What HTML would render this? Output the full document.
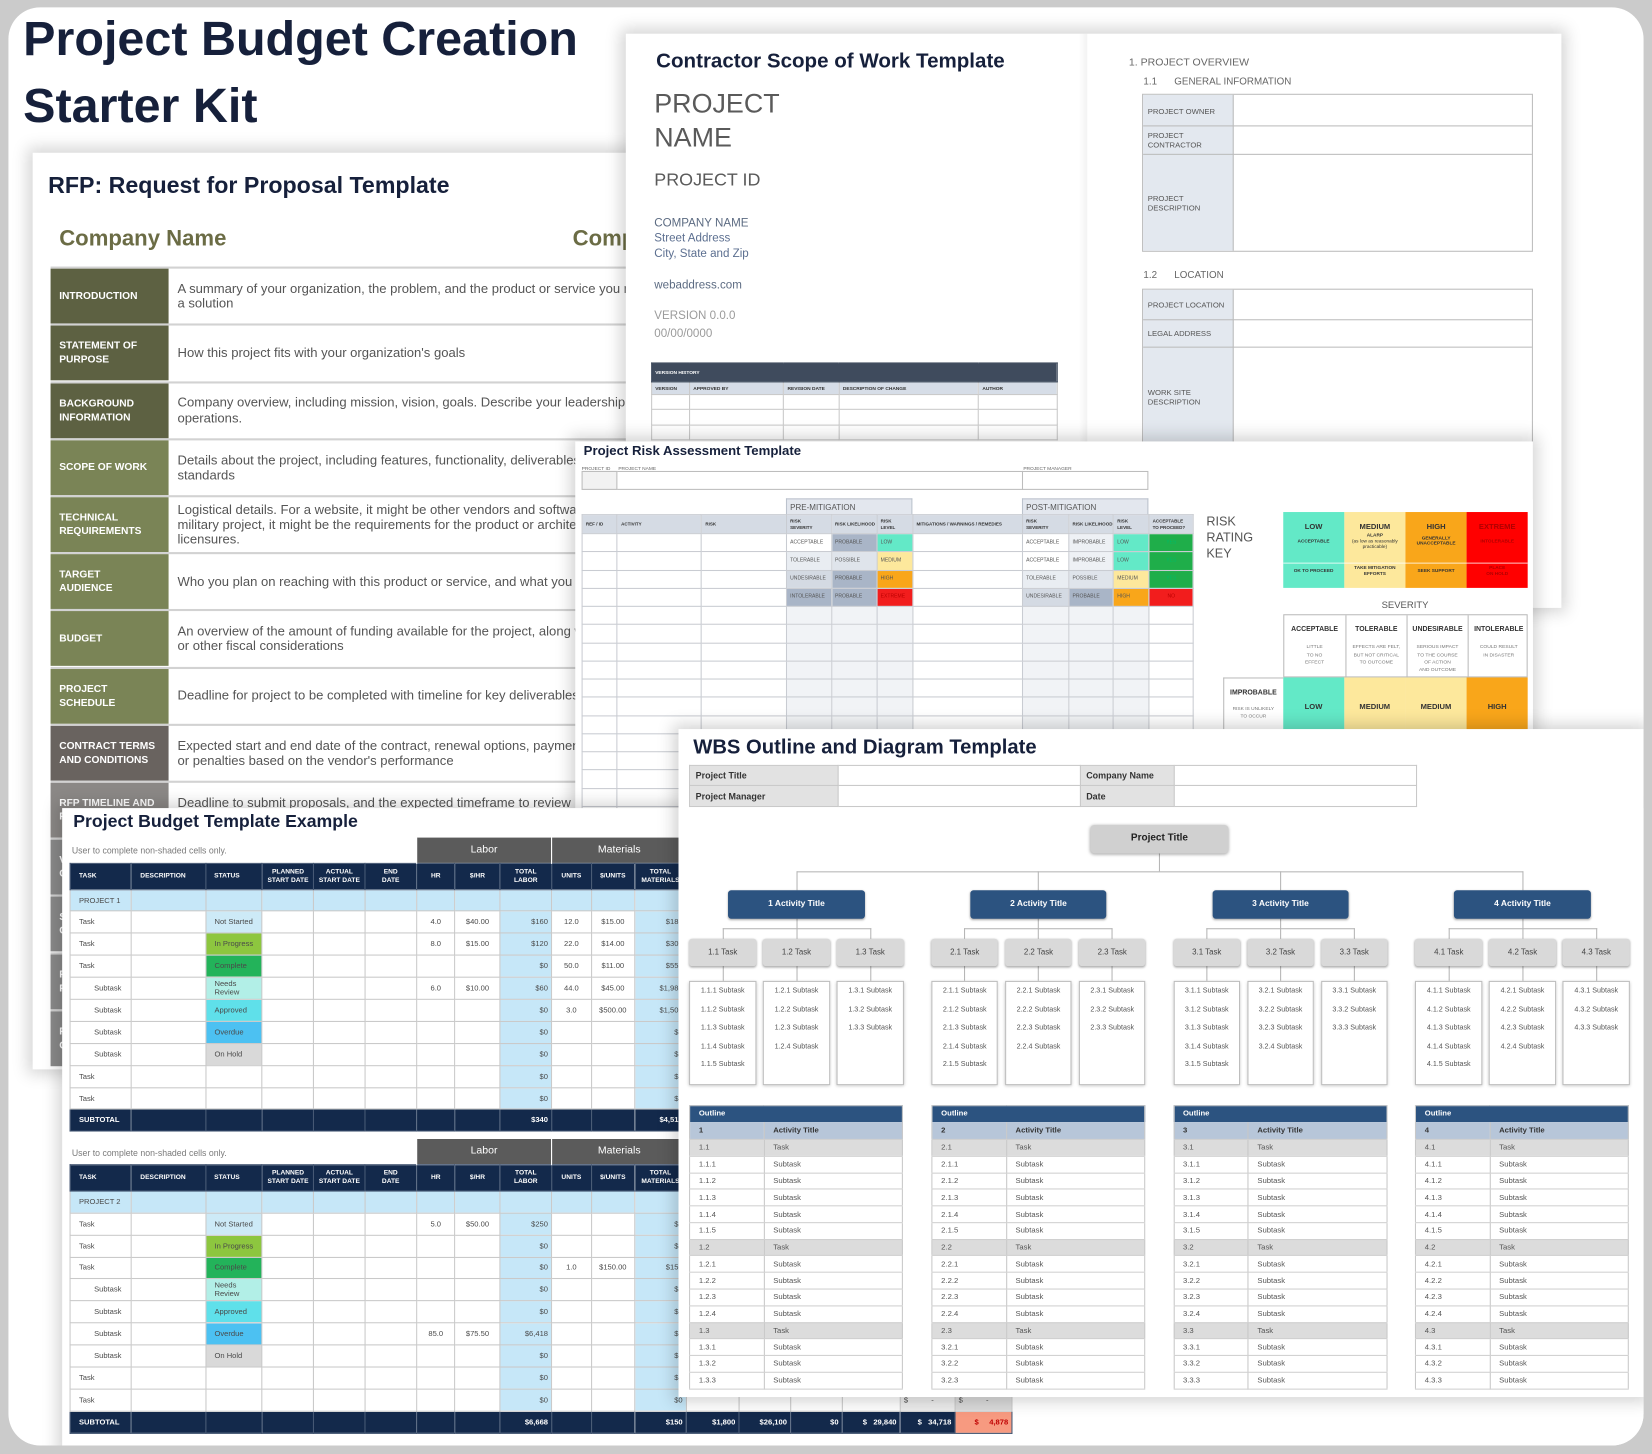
<!DOCTYPE html>
<html><head><meta charset="utf-8"><title>Project Budget Creation Starter Kit</title>
<style>
*{box-sizing:border-box;margin:0;padding:0}
html,body{width:1652px;height:1454px;overflow:hidden;background:#cbcbcb}
#stage{position:absolute;left:0;top:0;width:1568px;height:1380px;transform:scale(1.053571);transform-origin:0 0;font-family:"Liberation Sans",Arial,sans-serif;color:#333}
#panel{position:absolute;left:0;top:0;width:1568px;height:1380px;background:#fff;clip-path:inset(7px 8px 8px 8px round 30px)}
.a{position:absolute}
.t{position:absolute;white-space:nowrap}
.doc{position:absolute;background:#fff;overflow:hidden;box-shadow:0 0 14px 5px rgba(0,0,0,.17)}
/* RFP */
.rr{position:absolute;left:16.6px;width:600px;height:54.2px;border-top:2px solid #d2d2d2}
.rl{position:absolute;left:0;top:0;width:112.4px;height:100%;color:#fff;font-weight:bold;font-size:9.7px;line-height:13px;display:flex;align-items:center;padding-left:8.6px}
.rx{position:absolute;left:120.9px;top:0;height:100%;display:flex;align-items:center;font-size:12.4px;line-height:14.2px;color:#555;white-space:nowrap}
/* contractor */
.vt{position:absolute;border-collapse:collapse;table-layout:fixed;width:385.4px;font-size:4.6px;font-weight:bold;color:#333}
.vt td{border:1px solid #c9c9c9;padding:0 3px;white-space:nowrap;overflow:hidden}
.vt tr.vh td{background:#3f4b5d;color:#fff;height:17.7px;border-color:#3f4b5d}
.vt tr.vc td{background:#d6dde7;height:12.7px}
.vt tr.vr td{height:14.2px}
.lb7{position:absolute;left:4.4px;font-size:7.3px;line-height:9.2px;color:#555;white-space:nowrap}
.hl{position:absolute;left:0;width:100%;height:1px;background:#bcbcbc}
/* risk */
.sm5{font-size:4.6px;color:#666}
.mbox{width:120px;height:15.4px;background:#e3e7ee;border:1px solid #bcc3cd;border-bottom:none;font-size:7.6px;color:#555;padding:3.5px 0 0 3px;white-space:nowrap}
.rt{position:absolute;left:5.8px;top:69px;border-collapse:collapse;table-layout:fixed;width:580.4px;font-size:4.8px;color:#555}
.rt td{border:1px solid #c9ccd2;padding:0 3px;white-space:nowrap;overflow:hidden;line-height:5.5px}
.rt tr{height:17.25px}
.rt tr.rh{height:18px}
.rt tr.rh td{background:#d5dbe4;font-weight:bold;font-size:4.3px;color:#333}
.rt td.e{background:#f1f3f6}
.sl{background:#a9b5c7}.sx{background:#e9edf2}.sm{background:#dfe4eb}.sd{background:#d4dae3}
.mn{background:#63e9c7}.yl{background:#fde89c}.or{background:#f9a61a}.rd{background:#f21d1d}.gn{background:#1fae4a}
.kc{position:absolute;top:0;width:58.2px;height:72.1px;text-align:center;font-weight:bold;color:#333}
.k1{position:absolute;left:0;right:0;top:8.4px;font-size:7.2px}
.k2{position:absolute;left:2px;right:2px;font-size:4.5px;line-height:5.6px}
.k3{position:absolute;left:2px;right:2px;font-size:4.5px;line-height:5.6px}
.sv{position:absolute;top:0;width:58.1px;height:59.8px;text-align:center}
.sv b{display:block;margin-top:10.3px;font-size:6.6px;color:#333}
.sv i{display:block;font-style:normal;margin-top:9px;font-size:4.7px;line-height:7.3px;color:#777}
.ic{position:absolute;top:223.7px;width:58.1px;height:50px;text-align:center;font-size:7.2px;font-weight:bold;color:#333;padding-top:22.7px}
/* budget */
.bt{position:absolute;left:7.8px;border-collapse:collapse;table-layout:fixed;width:893.7px;font-size:7.2px;color:#4a4a4a}
.bt td{border:1px solid #c9c9c9;padding:0 3px;white-space:nowrap;overflow:hidden;line-height:8px}
.bt tr{height:20.9px}
.bt tr.g{height:24.7px}
.bt tr.g td{border:none}
.bt tr.g td.lab{background:#5b5b5b;color:#fff;font-size:10px;text-align:center;border-left:1px solid #fff}
.bt tr.h{height:24.7px}
.bt tr.h td{background:#13294b;color:#fff;font-weight:bold;font-size:6.3px;text-align:center;border-color:#40536f}
.bt tr.h td.lf{text-align:left;padding-left:7.7px}
.bt tr.p td{background:#c6e7f8}
.bt tr.s td{background:#13294b;color:#fff;font-weight:bold;border-color:#40536f}
.bt td.L{background:#c6e7f8}
.bt td.r{text-align:right}
.bt td.c{text-align:center}
.bt td.k{padding-left:7.7px}
.bt td.ind{padding-left:22px}
.bt td.st{padding-left:8px}
/* WBS */
.wi{position:absolute;border-collapse:collapse;table-layout:fixed;font-size:8.5px;font-weight:bold;color:#333}
.wi td{border:1px solid #c9c9c9;height:19.4px;padding:0 5px}
.wi td.lbl{background:#e2e2e2}
.act{position:absolute;top:153.4px;width:129.4px;height:26.2px;background:#2c5380;border-radius:3px;color:#fff;font-weight:bold;font-size:8px;line-height:26.2px;text-align:center;box-shadow:0 1px 2px rgba(0,0,0,.35)}
.tsk{position:absolute;top:199.3px;width:63.6px;height:26.2px;background:#d9d9d9;border-radius:3px;font-size:7.5px;line-height:26.2px;text-align:center;color:#444;box-shadow:0 1px 2px rgba(0,0,0,.35)}
.sub{position:absolute;top:239.4px;width:63.6px;height:98.4px;background:#fff;border:1px solid #bdbdbd;font-size:6.8px;line-height:17.4px;text-align:center;color:#555;box-shadow:0 1px 3px rgba(0,0,0,.25)}
.ln{position:absolute;background:#b5b5b5}
.ot{position:absolute;top:356.8px;width:203px;border-collapse:collapse;table-layout:fixed;font-size:7.3px;color:#555;border:1px solid #c8c8c8}
.ot td{border-bottom:1px solid #d0d0d0;height:15.78px;padding:0 0 0 8px;line-height:8px;white-space:nowrap}
.ot td:first-child{border-right:1px solid #c8c8c8}
.ot tr.hd td{background:#2c5380;color:#fff;font-weight:bold;height:15.8px;border:none}
.ot tr.ac td{background:#b7c6d9;color:#333;font-weight:bold;height:16.5px}
.ot tr.tk td{background:#dcdcdc}
</style></head><body><div id="stage"><div id="panel">

<!-- Main title -->
<div class="t" style="left:22px;top:4px;font-size:46px;line-height:64px;font-weight:bold;color:#16203b">Project Budget Creation<br>Starter Kit</div>

<!-- RFP document -->
<div class="doc" style="left:31px;top:145px;width:590px;height:870px">
 <div class="t" style="left:14.7px;top:19.6px;font-size:22px;line-height:22px;font-weight:bold;color:#16203b">RFP: Request for Proposal Template</div>
 <div class="t" style="left:25.2px;top:70.7px;font-size:21px;line-height:21px;font-weight:bold;color:#6b6c45">Company Name</div>
 <div class="t" style="left:512.5px;top:70.7px;font-size:21px;line-height:21px;font-weight:bold;color:#6b6c45">Company Name</div>

 <div class="rr" style="top:108.1px"><div class="rl" style="background:#5d6142">INTRODUCTION</div><div class="rx">A summary of your organization, the problem, and the product or service you need as<br>a solution</div></div>
 <div class="rr" style="top:162.3px"><div class="rl" style="background:#5d6142">STATEMENT OF<br>PURPOSE</div><div class="rx">How this project fits with your organization's goals</div></div>
 <div class="rr" style="top:216.5px"><div class="rl" style="background:#5d6142">BACKGROUND<br>INFORMATION</div><div class="rx">Company overview, including mission, vision, goals. Describe your leadership and<br>operations.</div></div>
 <div class="rr" style="top:270.7px"><div class="rl" style="background:#7a8456">SCOPE OF WORK</div><div class="rx">Details about the project, including features, functionality, deliverables, and<br>standards</div></div>
 <div class="rr" style="top:324.9px"><div class="rl" style="background:#7a8456">TECHNICAL<br>REQUIREMENTS</div><div class="rx">Logistical details. For a website, it might be other vendors and software. For a<br>military project, it might be the requirements for the product or architecture<br>licensures.</div></div>
 <div class="rr" style="top:379.1px"><div class="rl" style="background:#7a8456">TARGET<br>AUDIENCE</div><div class="rx">Who you plan on reaching with this product or service, and what you want</div></div>
 <div class="rr" style="top:433.3px"><div class="rl" style="background:#7a8456">BUDGET</div><div class="rx">An overview of the amount of funding available for the project, along with<br>or other fiscal considerations</div></div>
 <div class="rr" style="top:487.5px"><div class="rl" style="background:#7a8456">PROJECT<br>SCHEDULE</div><div class="rx">Deadline for project to be completed with timeline for key deliverables</div></div>
 <div class="rr" style="top:541.7px"><div class="rl" style="background:#69635f">CONTRACT TERMS<br>AND CONDITIONS</div><div class="rx">Expected start and end date of the contract, renewal options, payment<br>or penalties based on the vendor's performance</div></div>
 <div class="rr" style="top:595.9px"><div class="rl" style="background:#8b8886">RFP TIMELINE AND<br>PROCESS</div><div class="rx">Deadline to submit proposals, and the expected timeframe to review<br>proposals</div></div>
 <div class="rr" style="top:650.1px"><div class="rl" style="background:#8a8a8a">VENDOR<br>QUESTIONS</div></div>
 <div class="rr" style="top:704.3px"><div class="rl" style="background:#8a8a8a">SELECTION<br>CRITERIA</div></div>
 <div class="rr" style="top:758.5px"><div class="rl" style="background:#8a8a8a">PROPOSAL<br>FORMAT</div></div>
 <div class="rr" style="top:812.7px"><div class="rl" style="background:#8a8a8a">POINT OF<br>CONTACT</div></div>
</div>

<!-- Contractor Scope of Work -->
<div class="doc" style="left:593.5px;top:31.6px;width:888.5px;height:545px">
 <div class="t" style="left:29.3px;top:17.2px;font-size:19.5px;line-height:19.5px;font-weight:bold;color:#16203b">Contractor Scope of Work Template</div>
 <div class="t" style="left:27.5px;top:55px;font-size:25.5px;line-height:25.5px;color:#5a5a5a">PROJECT</div>
 <div class="t" style="left:27.5px;top:87.6px;font-size:25.5px;line-height:25.5px;color:#5a5a5a">NAME</div>
 <div class="t" style="left:27.5px;top:130.5px;font-size:17px;line-height:17px;color:#5a5a5a">PROJECT ID</div>
 <div class="t" style="left:27.5px;top:175.2px;font-size:11px;line-height:11px;color:#5c6b82">COMPANY NAME</div>
 <div class="t" style="left:27.5px;top:189.7px;font-size:11px;line-height:11px;color:#5c6f90">Street Address</div>
 <div class="t" style="left:27.5px;top:204.3px;font-size:11px;line-height:11px;color:#5c6f90">City, State and Zip</div>
 <div class="t" style="left:27.5px;top:234px;font-size:11px;line-height:11px;color:#5c6b82">webaddress.com</div>
 <div class="t" style="left:27.5px;top:263.5px;font-size:11px;line-height:11px;color:#9b9b9b">VERSION 0.0.0</div>
 <div class="t" style="left:27.5px;top:280.2px;font-size:11px;line-height:11px;color:#9b9b9b">00/00/0000</div>
 <table class="vt" style="left:24.4px;top:312.3px">
  <colgroup><col style="width:36.1px"><col style="width:89.5px"><col style="width:52.5px"><col style="width:132.4px"><col style="width:74.9px"></colgroup>
  <tr class="vh"><td colspan="5">VERSION HISTORY</td></tr>
  <tr class="vc"><td>VERSION</td><td>APPROVED BY</td><td>REVISION DATE</td><td>DESCRIPTION OF CHANGE</td><td>AUTHOR</td></tr>
  <tr class="vr"><td></td><td></td><td></td><td></td><td></td></tr>
  <tr class="vr"><td></td><td></td><td></td><td></td><td></td></tr>
  <tr class="vr"><td></td><td></td><td></td><td></td><td></td></tr>
 </table>
 <div class="a" style="left:430px;top:0;width:8px;height:545px;background:linear-gradient(90deg,rgba(0,0,0,0),rgba(0,0,0,.05))"></div>
 <div class="t" style="left:478px;top:23.5px;font-size:10px;line-height:10px;color:#666">1. PROJECT OVERVIEW</div>
 <div class="t" style="left:491.8px;top:41.8px;font-size:9.3px;line-height:9.3px;color:#666">1.1</div>
 <div class="t" style="left:521.1px;top:41.8px;font-size:9.3px;line-height:9.3px;color:#666">GENERAL INFORMATION</div>
 <div class="a" style="left:490.5px;top:57.9px;width:370.5px;height:149.4px;border:1px solid #bcbcbc">
  <div class="a" style="left:0;top:0;width:86.2px;height:100%;background:#e3e8ef;border-right:1px solid #bcbcbc"></div>
  <div class="hl" style="top:28.5px"></div><div class="hl" style="top:56px"></div>
  <div class="lb7" style="top:10.3px">PROJECT OWNER</div>
  <div class="lb7" style="top:33.1px">PROJECT<br>CONTRACTOR</div>
  <div class="lb7" style="top:93.6px">PROJECT<br>DESCRIPTION</div>
 </div>
 <div class="t" style="left:491.8px;top:225.4px;font-size:9.3px;line-height:9.3px;color:#666">1.2</div>
 <div class="t" style="left:521.1px;top:225.4px;font-size:9.3px;line-height:9.3px;color:#666">LOCATION</div>
 <div class="a" style="left:490.5px;top:242.1px;width:370.5px;height:200px;border:1px solid #bcbcbc">
  <div class="a" style="left:0;top:0;width:86.2px;height:100%;background:#e3e8ef;border-right:1px solid #bcbcbc"></div>
  <div class="hl" style="top:28.5px"></div><div class="hl" style="top:54.7px"></div>
  <div class="lb7" style="top:10px">PROJECT LOCATION</div>
  <div class="lb7" style="top:37.6px">LEGAL ADDRESS</div>
  <div class="lb7" style="top:93px">WORK SITE<br>DESCRIPTION</div>
 </div>
</div>

<!-- Risk Assessment -->
<div class="doc" style="left:546.3px;top:419.2px;width:908.7px;height:360px">
 <div class="t" style="left:7.7px;top:3.3px;font-size:12.5px;line-height:12.5px;font-weight:bold;color:#16203b">Project Risk Assessment Template</div>
 <div class="t sm5" style="left:5.8px;top:22.4px">PROJECT ID</div>
 <div class="t sm5" style="left:40.6px;top:22.4px">PROJECT NAME</div>
 <div class="t sm5" style="left:425px;top:22.4px">PROJECT MANAGER</div>
 <div class="a" style="left:5.8px;top:27.8px;width:537.8px;height:18.4px;border:1px solid #bdbdbd"></div>
 <div class="a" style="left:5.8px;top:27.8px;width:33.6px;height:18.4px;border:1px solid #bdbdbd;background:#f2f2f2"></div>
 <div class="a" style="left:423.7px;top:27.8px;width:1px;height:18.4px;background:#bdbdbd"></div>
 <div class="a mbox" style="left:199.7px;top:53.8px">PRE-MITIGATION</div>
 <div class="a mbox" style="left:423.7px;top:53.8px">POST-MITIGATION</div>
 <table class="rt">
  <colgroup><col style="width:33.4px"><col style="width:80px"><col style="width:80.5px"><col style="width:42.6px"><col style="width:43.3px"><col style="width:34px"><col style="width:104.1px"><col style="width:44px"><col style="width:42.5px"><col style="width:33.5px"><col style="width:42.5px"></colgroup>
  <tr class="rh"><td>REF / ID</td><td>ACTIVITY</td><td>RISK</td><td>RISK<br>SEVERITY</td><td>RISK LIKELIHOOD</td><td>RISK<br>LEVEL</td><td>MITIGATIONS / WARNINGS / REMEDIES</td><td>RISK<br>SEVERITY</td><td>RISK LIKELIHOOD</td><td>RISK<br>LEVEL</td><td>ACCEPTABLE<br>TO PROCEED?</td></tr>
  <tr><td></td><td></td><td></td><td>ACCEPTABLE</td><td class="sl">PROBABLE</td><td class="mn">LOW</td><td></td><td>ACCEPTABLE</td><td style="background:#eef1f5">IMPROBABLE</td><td class="mn">LOW</td><td class="gn" style="text-align:center;color:#0b6">YES</td></tr>
  <tr><td></td><td></td><td></td><td class="sx">TOLERABLE</td><td class="sm">POSSIBLE</td><td class="yl">MEDIUM</td><td></td><td>ACCEPTABLE</td><td style="background:#eef1f5">IMPROBABLE</td><td class="mn">LOW</td><td class="gn" style="text-align:center;color:#0b6">YES</td></tr>
  <tr><td></td><td></td><td></td><td class="sd">UNDESIRABLE</td><td class="sl">PROBABLE</td><td class="or">HIGH</td><td></td><td class="sx">TOLERABLE</td><td class="sm">POSSIBLE</td><td class="yl">MEDIUM</td><td class="gn" style="text-align:center;color:#0b6">YES</td></tr>
  <tr><td></td><td></td><td></td><td class="sl">INTOLERABLE</td><td class="sl">PROBABLE</td><td class="rd" style="color:#b00">EXTREME</td><td></td><td class="sd">UNDESIRABLE</td><td class="sl">PROBABLE</td><td class="or">HIGH</td><td class="rd" style="text-align:center;color:#b00">NO</td></tr>
  <tr><td></td><td></td><td></td><td class="e"></td><td class="e"></td><td class="e"></td><td></td><td class="e"></td><td class="e"></td><td class="e"></td><td></td></tr>
  <tr><td></td><td></td><td></td><td class="e"></td><td class="e"></td><td class="e"></td><td></td><td class="e"></td><td class="e"></td><td class="e"></td><td></td></tr>
  <tr><td></td><td></td><td></td><td class="e"></td><td class="e"></td><td class="e"></td><td></td><td class="e"></td><td class="e"></td><td class="e"></td><td></td></tr>
  <tr><td></td><td></td><td></td><td class="e"></td><td class="e"></td><td class="e"></td><td></td><td class="e"></td><td class="e"></td><td class="e"></td><td></td></tr>
  <tr><td></td><td></td><td></td><td class="e"></td><td class="e"></td><td class="e"></td><td></td><td class="e"></td><td class="e"></td><td class="e"></td><td></td></tr>
  <tr><td></td><td></td><td></td><td class="e"></td><td class="e"></td><td class="e"></td><td></td><td class="e"></td><td class="e"></td><td class="e"></td><td></td></tr>
  <tr><td></td><td></td><td></td><td class="e"></td><td class="e"></td><td class="e"></td><td></td><td class="e"></td><td class="e"></td><td class="e"></td><td></td></tr>
  <tr><td></td><td></td><td></td><td class="e"></td><td class="e"></td><td class="e"></td><td></td><td class="e"></td><td class="e"></td><td class="e"></td><td></td></tr>
  <tr><td></td><td></td><td></td><td class="e"></td><td class="e"></td><td class="e"></td><td></td><td class="e"></td><td class="e"></td><td class="e"></td><td></td></tr>
  <tr><td></td><td></td><td></td><td class="e"></td><td class="e"></td><td class="e"></td><td></td><td class="e"></td><td class="e"></td><td class="e"></td><td></td></tr>
  <tr><td></td><td></td><td></td><td class="e"></td><td class="e"></td><td class="e"></td><td></td><td class="e"></td><td class="e"></td><td class="e"></td><td></td></tr>
  <tr><td></td><td></td><td></td><td class="e"></td><td class="e"></td><td class="e"></td><td></td><td class="e"></td><td class="e"></td><td class="e"></td><td></td></tr>
 </table>
 <div class="t" style="left:598.7px;top:68.4px;font-size:12px;line-height:15.1px;color:#555">RISK<br>RATING<br>KEY</div>
 <div class="a" style="left:671.4px;top:67.1px;width:232.5px;height:72.1px">
  <div class="kc mn" style="left:0"><div class="k1">LOW</div><div class="k2" style="top:24.4px">ACCEPTABLE</div><div class="k3" style="top:52.9px">OK TO PROCEED</div></div>
  <div class="kc yl" style="left:58.2px"><div class="k1">MEDIUM</div><div class="k2" style="top:19px">ALARP<br><span style="font-weight:normal">(as low as reasonably practicable)</span></div><div class="k3" style="top:50.1px">TAKE MITIGATION EFFORTS</div></div>
  <div class="kc or" style="left:116.3px"><div class="k1">HIGH</div><div class="k2" style="top:21.6px">GENERALLY UNACCEPTABLE</div><div class="k3" style="top:52.9px">SEEK SUPPORT</div></div>
  <div class="kc" style="left:174.3px;background:#ff0000;color:#b00000"><div class="k1">EXTREME</div><div class="k2" style="top:24.4px">INTOLERABLE</div><div class="k3" style="top:50.1px">PLACE<br>ON HOLD</div></div>
  <div class="a" style="left:0;top:47.4px;width:232.5px;height:1px;background:rgba(255,255,255,.75)"></div>
 </div>
 <div class="t" style="left:759.8px;top:151px;width:55px;text-align:center;font-size:9px;line-height:9px;color:#555">SEVERITY</div>
 <div class="a" style="left:671.4px;top:163.9px;width:232.5px;height:59.8px;border:1px solid #bbb">
  <div class="sv" style="left:0"><b>ACCEPTABLE</b><i>LITTLE<br>TO NO<br>EFFECT</i></div>
  <div class="sv" style="left:58.1px;border-left:1px solid #bbb"><b>TOLERABLE</b><i>EFFECTS ARE FELT,<br>BUT NOT CRITICAL<br>TO OUTCOME</i></div>
  <div class="sv" style="left:116.2px;border-left:1px solid #bbb"><b>UNDESIRABLE</b><i>SERIOUS IMPACT<br>TO THE COURSE<br>OF ACTION<br>AND OUTCOME</i></div>
  <div class="sv" style="left:174.3px;border-left:1px solid #bbb"><b>INTOLERABLE</b><i>COULD RESULT<br>IN DISASTER</i></div>
 </div>
 <div class="a" style="left:614.3px;top:223.7px;width:57.1px;height:50px;border-left:1px solid #bbb;border-top:1px solid #bbb;text-align:center">
  <div style="margin-top:9.7px;font-size:6.6px;font-weight:bold;color:#333">IMPROBABLE</div>
  <div style="margin-top:8px;font-size:4.6px;line-height:7px;color:#777">RISK IS UNLIKELY<br>TO OCCUR</div>
 </div>
 <div class="ic mn" style="left:671.4px">LOW</div>
 <div class="ic yl" style="left:729.5px">MEDIUM</div>
 <div class="ic yl" style="left:787.6px">MEDIUM</div>
 <div class="ic or" style="left:845.7px">HIGH</div>
</div>

<!-- Budget template -->
<div class="doc" style="left:58.5px;top:767.2px;width:1502px;height:613px">
 <div class="t" style="left:11px;top:4.4px;font-size:16.8px;line-height:16.8px;font-weight:bold;color:#16203b">Project Budget Template Example</div>
 <div class="t" style="left:9.7px;top:36px;font-size:8.3px;line-height:8.3px;color:#7a7a7a">User to complete non-shaded cells only.</div>
 <table class="bt" style="top:27.5px">
  <colgroup><col style="width:58.2px"><col style="width:70.1px"><col style="width:53.9px"><col style="width:48.8px"><col style="width:48.7px"><col style="width:48.8px"><col style="width:36.7px"><col style="width:42.5px"><col style="width:49.2px"><col style="width:37.4px"><col style="width:41.3px"><col style="width:49.1px"><col style="width:50px"><col style="width:49px"><col style="width:49px"><col style="width:55px"><col style="width:52px"><col style="width:54px"></colgroup>
  <tr class="g"><td></td><td></td><td></td><td></td><td></td><td></td><td class="lab" colspan="3">Labor</td><td class="lab" colspan="3">Materials</td><td></td><td></td><td></td><td></td><td></td><td></td></tr>
  <tr class="h"><td class="lf">TASK</td><td class="lf">DESCRIPTION</td><td class="lf">STATUS</td><td>PLANNED<br>START DATE</td><td>ACTUAL<br>START DATE</td><td>END<br>DATE</td><td>HR</td><td>$/HR</td><td>TOTAL<br>LABOR</td><td>UNITS</td><td>$/UNITS</td><td>TOTAL<br>MATERIALS</td><td></td><td></td><td></td><td></td><td></td><td></td></tr>
  <tr class="p"><td class="k">PROJECT 1</td><td></td><td></td><td></td><td></td><td></td><td></td><td></td><td></td><td></td><td></td><td></td><td></td><td></td><td></td><td></td><td></td><td></td></tr>
  <tr><td class="k">Task</td><td></td><td class="st" style="background:#cdeaf7">Not Started</td><td></td><td></td><td></td><td class="c">4.0</td><td class="c">$40.00</td><td class="L r">$160</td><td class="c">12.0</td><td class="c">$15.00</td><td class="L r">$180</td><td></td><td></td><td></td><td></td><td></td><td></td></tr>
  <tr><td class="k">Task</td><td></td><td class="st" style="background:#8dc63f">In Progress</td><td></td><td></td><td></td><td class="c">8.0</td><td class="c">$15.00</td><td class="L r">$120</td><td class="c">22.0</td><td class="c">$14.00</td><td class="L r">$308</td><td></td><td></td><td></td><td></td><td></td><td></td></tr>
  <tr><td class="k">Task</td><td></td><td class="st" style="background:#23b35a">Complete</td><td></td><td></td><td></td><td></td><td></td><td class="L r">$0</td><td class="c">50.0</td><td class="c">$11.00</td><td class="L r">$550</td><td></td><td></td><td></td><td></td><td></td><td></td></tr>
  <tr><td class="ind">Subtask</td><td></td><td class="st" style="background:#b2efe7">Needs<br>Review</td><td></td><td></td><td></td><td class="c">6.0</td><td class="c">$10.00</td><td class="L r">$60</td><td class="c">44.0</td><td class="c">$45.00</td><td class="L r">$1,980</td><td></td><td></td><td></td><td></td><td></td><td></td></tr>
  <tr><td class="ind">Subtask</td><td></td><td class="st" style="background:#5fe0ea">Approved</td><td></td><td></td><td></td><td></td><td></td><td class="L r">$0</td><td class="c">3.0</td><td class="c">$500.00</td><td class="L r">$1,500</td><td></td><td></td><td></td><td></td><td></td><td></td></tr>
  <tr><td class="ind">Subtask</td><td></td><td class="st" style="background:#4cc1f2">Overdue</td><td></td><td></td><td></td><td></td><td></td><td class="L r">$0</td><td></td><td></td><td class="L r">$0</td><td></td><td></td><td></td><td></td><td></td><td></td></tr>
  <tr><td class="ind">Subtask</td><td></td><td class="st" style="background:#d9d9d9">On Hold</td><td></td><td></td><td></td><td></td><td></td><td class="L r">$0</td><td></td><td></td><td class="L r">$0</td><td></td><td></td><td></td><td></td><td></td><td></td></tr>
  <tr><td class="k">Task</td><td></td><td></td><td></td><td></td><td></td><td></td><td></td><td class="L r">$0</td><td></td><td></td><td class="L r">$0</td><td></td><td></td><td></td><td></td><td></td><td></td></tr>
  <tr><td class="k">Task</td><td></td><td></td><td></td><td></td><td></td><td></td><td></td><td class="L r">$0</td><td></td><td></td><td class="L r">$0</td><td></td><td></td><td></td><td></td><td></td><td></td></tr>
  <tr class="s"><td class="k">SUBTOTAL</td><td></td><td></td><td></td><td></td><td></td><td></td><td></td><td class="r">$340</td><td></td><td></td><td class="r">$4,518</td><td></td><td></td><td></td><td></td><td></td><td></td></tr>
 </table>
 <div class="t" style="left:9.7px;top:322.6px;font-size:8.3px;line-height:8.3px;color:#7a7a7a">User to complete non-shaded cells only.</div>
 <table class="bt" style="top:313.8px">
  <colgroup><col style="width:58.2px"><col style="width:70.1px"><col style="width:53.9px"><col style="width:48.8px"><col style="width:48.7px"><col style="width:48.8px"><col style="width:36.7px"><col style="width:42.5px"><col style="width:49.2px"><col style="width:37.4px"><col style="width:41.3px"><col style="width:49.1px"><col style="width:50px"><col style="width:49px"><col style="width:49px"><col style="width:55px"><col style="width:52px"><col style="width:54px"></colgroup>
  <tr class="g"><td></td><td></td><td></td><td></td><td></td><td></td><td class="lab" colspan="3">Labor</td><td class="lab" colspan="3">Materials</td><td></td><td></td><td></td><td></td><td></td><td></td></tr>
  <tr class="h"><td class="lf">TASK</td><td class="lf">DESCRIPTION</td><td class="lf">STATUS</td><td>PLANNED<br>START DATE</td><td>ACTUAL<br>START DATE</td><td>END<br>DATE</td><td>HR</td><td>$/HR</td><td>TOTAL<br>LABOR</td><td>UNITS</td><td>$/UNITS</td><td>TOTAL<br>MATERIALS</td><td></td><td></td><td></td><td></td><td></td><td></td></tr>
  <tr class="p"><td class="k">PROJECT 2</td><td></td><td></td><td></td><td></td><td></td><td></td><td></td><td></td><td></td><td></td><td></td><td></td><td></td><td></td><td></td><td></td><td></td></tr>
  <tr><td class="k">Task</td><td></td><td class="st" style="background:#cdeaf7">Not Started</td><td></td><td></td><td></td><td class="c">5.0</td><td class="c">$50.00</td><td class="L r">$250</td><td></td><td></td><td class="L r">$0</td><td></td><td></td><td></td><td></td><td></td><td></td></tr>
  <tr><td class="k">Task</td><td></td><td class="st" style="background:#8dc63f">In Progress</td><td></td><td></td><td></td><td></td><td></td><td class="L r">$0</td><td></td><td></td><td class="L r">$0</td><td></td><td></td><td></td><td></td><td></td><td></td></tr>
  <tr><td class="k">Task</td><td></td><td class="st" style="background:#23b35a">Complete</td><td></td><td></td><td></td><td></td><td></td><td class="L r">$0</td><td class="c">1.0</td><td class="c">$150.00</td><td class="L r">$150</td><td></td><td></td><td></td><td></td><td></td><td></td></tr>
  <tr><td class="ind">Subtask</td><td></td><td class="st" style="background:#b2efe7">Needs<br>Review</td><td></td><td></td><td></td><td></td><td></td><td class="L r">$0</td><td></td><td></td><td class="L r">$0</td><td></td><td></td><td></td><td></td><td></td><td></td></tr>
  <tr><td class="ind">Subtask</td><td></td><td class="st" style="background:#5fe0ea">Approved</td><td></td><td></td><td></td><td></td><td></td><td class="L r">$0</td><td></td><td></td><td class="L r">$0</td><td></td><td></td><td></td><td></td><td></td><td></td></tr>
  <tr><td class="ind">Subtask</td><td></td><td class="st" style="background:#4cc1f2">Overdue</td><td></td><td></td><td></td><td class="c">85.0</td><td class="c">$75.50</td><td class="L r">$6,418</td><td></td><td></td><td class="L r">$0</td><td></td><td></td><td></td><td></td><td></td><td></td></tr>
  <tr><td class="ind">Subtask</td><td></td><td class="st" style="background:#d9d9d9">On Hold</td><td></td><td></td><td></td><td></td><td></td><td class="L r">$0</td><td></td><td></td><td class="L r">$0</td><td></td><td></td><td></td><td></td><td></td><td></td></tr>
  <tr><td class="k">Task</td><td></td><td></td><td></td><td></td><td></td><td></td><td></td><td class="L r">$0</td><td></td><td></td><td class="L r">$0</td><td></td><td></td><td></td><td></td><td></td><td></td></tr>
  <tr><td class="k">Task</td><td></td><td></td><td></td><td></td><td></td><td></td><td></td><td class="L r">$0</td><td></td><td></td><td class="L r">$0</td><td></td><td></td><td></td><td></td><td style="background:#ececec">$&nbsp;&nbsp;&nbsp;&nbsp;&nbsp;&nbsp;&nbsp;&nbsp;&nbsp;&nbsp;&nbsp;-</td><td style="background:#dadada">$&nbsp;&nbsp;&nbsp;&nbsp;&nbsp;&nbsp;&nbsp;&nbsp;&nbsp;&nbsp;&nbsp;-</td></tr>
  <tr class="s"><td class="k">SUBTOTAL</td><td></td><td></td><td></td><td></td><td></td><td></td><td></td><td class="r">$6,668</td><td></td><td></td><td class="r">$150</td><td class="r">$1,800</td><td class="r">$26,100</td><td class="r">$0</td><td class="r">$&nbsp;&nbsp;&nbsp;29,840</td><td class="r">$&nbsp;&nbsp;&nbsp;34,718</td><td class="r" style="background:#f79a80;color:#c00000">$&nbsp;&nbsp;&nbsp;&nbsp;&nbsp;4,878</td></tr>
 </table>
</div>

<!-- WBS -->
<div class="doc" style="left:644px;top:692px;width:916px;height:634px">
 <div class="t" style="left:14px;top:7.9px;font-size:19.2px;line-height:19.2px;font-weight:bold;color:#16203b">WBS Outline and Diagram Template</div>
 <table class="wi" style="left:10.3px;top:34.1px">
  <colgroup><col style="width:141.2px"><col style="width:229.5px"><col style="width:89.4px"><col style="width:229.5px"></colgroup>
  <tr><td class="lbl">Project Title</td><td></td><td class="lbl">Company Name</td><td></td></tr>
  <tr><td class="lbl">Project Manager</td><td></td><td class="lbl">Date</td><td></td></tr>
 </table>
 <!-- lines -->
 <div class="ln" style="left:456px;top:117.5px;width:1px;height:17.7px"></div>
 <div class="ln" style="left:111.5px;top:134.7px;width:690.1px;height:1px"></div>
 <div class="ln" style="left:111.5px;top:134.7px;width:1px;height:18.7px"></div>
 <div class="ln" style="left:341.2px;top:134.7px;width:1px;height:18.7px"></div>
 <div class="ln" style="left:570.9px;top:134.7px;width:1px;height:18.7px"></div>
 <div class="ln" style="left:800.6px;top:134.7px;width:1px;height:18.7px"></div>
 <div class="ln" style="left:41.5px;top:189px;width:141px;height:1px"></div>
 <div class="ln" style="left:271.2px;top:189px;width:141px;height:1px"></div>
 <div class="ln" style="left:500.9px;top:189px;width:141px;height:1px"></div>
 <div class="ln" style="left:730.6px;top:189px;width:141px;height:1px"></div>
 <div class="ln" style="left:41.5px;top:189px;width:1px;height:50.4px"></div>
 <div class="ln" style="left:111.5px;top:179.6px;width:1px;height:59.8px"></div>
 <div class="ln" style="left:181.5px;top:189px;width:1px;height:50.4px"></div>
 <div class="ln" style="left:271.2px;top:189px;width:1px;height:50.4px"></div>
 <div class="ln" style="left:341.2px;top:179.6px;width:1px;height:59.8px"></div>
 <div class="ln" style="left:411.2px;top:189px;width:1px;height:50.4px"></div>
 <div class="ln" style="left:500.9px;top:189px;width:1px;height:50.4px"></div>
 <div class="ln" style="left:570.9px;top:179.6px;width:1px;height:59.8px"></div>
 <div class="ln" style="left:640.9px;top:189px;width:1px;height:50.4px"></div>
 <div class="ln" style="left:730.6px;top:189px;width:1px;height:50.4px"></div>
 <div class="ln" style="left:800.6px;top:179.6px;width:1px;height:59.8px"></div>
 <div class="ln" style="left:870.6px;top:189px;width:1px;height:50.4px"></div>
 <!-- project title -->
 <div class="a" style="left:391px;top:91px;width:131px;height:26.5px;background:#d0d0d0;border-radius:4px;box-shadow:0 1px 3px rgba(0,0,0,.35);font-size:9.5px;font-weight:bold;line-height:26.5px;text-align:center;color:#222">Project Title</div>
 <!-- activities -->
 <div class="act" style="left:47.3px">1 Activity Title</div>
 <div class="act" style="left:277px">2 Activity Title</div>
 <div class="act" style="left:506.7px">3 Activity Title</div>
 <div class="act" style="left:736.4px">4 Activity Title</div>
 <!-- tasks -->
 <div class="tsk" style="left:10.2px">1.1 Task</div><div class="tsk" style="left:80.2px">1.2 Task</div><div class="tsk" style="left:150.2px">1.3 Task</div>
 <div class="tsk" style="left:239.9px">2.1 Task</div><div class="tsk" style="left:309.9px">2.2 Task</div><div class="tsk" style="left:379.9px">2.3 Task</div>
 <div class="tsk" style="left:469.6px">3.1 Task</div><div class="tsk" style="left:539.6px">3.2 Task</div><div class="tsk" style="left:609.6px">3.3 Task</div>
 <div class="tsk" style="left:699.3px">4.1 Task</div><div class="tsk" style="left:769.3px">4.2 Task</div><div class="tsk" style="left:839.3px">4.3 Task</div>
 <!-- subtasks -->
 <div class="sub" style="left:10.2px">1.1.1 Subtask<br>1.1.2 Subtask<br>1.1.3 Subtask<br>1.1.4 Subtask<br>1.1.5 Subtask</div>
 <div class="sub" style="left:80.2px">1.2.1 Subtask<br>1.2.2 Subtask<br>1.2.3 Subtask<br>1.2.4 Subtask</div>
 <div class="sub" style="left:150.2px">1.3.1 Subtask<br>1.3.2 Subtask<br>1.3.3 Subtask</div>
 <div class="sub" style="left:239.9px">2.1.1 Subtask<br>2.1.2 Subtask<br>2.1.3 Subtask<br>2.1.4 Subtask<br>2.1.5 Subtask</div>
 <div class="sub" style="left:309.9px">2.2.1 Subtask<br>2.2.2 Subtask<br>2.2.3 Subtask<br>2.2.4 Subtask</div>
 <div class="sub" style="left:379.9px">2.3.1 Subtask<br>2.3.2 Subtask<br>2.3.3 Subtask</div>
 <div class="sub" style="left:469.6px">3.1.1 Subtask<br>3.1.2 Subtask<br>3.1.3 Subtask<br>3.1.4 Subtask<br>3.1.5 Subtask</div>
 <div class="sub" style="left:539.6px">3.2.1 Subtask<br>3.2.2 Subtask<br>3.2.3 Subtask<br>3.2.4 Subtask</div>
 <div class="sub" style="left:609.6px">3.3.1 Subtask<br>3.3.2 Subtask<br>3.3.3 Subtask</div>
 <div class="sub" style="left:699.3px">4.1.1 Subtask<br>4.1.2 Subtask<br>4.1.3 Subtask<br>4.1.4 Subtask<br>4.1.5 Subtask</div>
 <div class="sub" style="left:769.3px">4.2.1 Subtask<br>4.2.2 Subtask<br>4.2.3 Subtask<br>4.2.4 Subtask</div>
 <div class="sub" style="left:839.3px">4.3.1 Subtask<br>4.3.2 Subtask<br>4.3.3 Subtask</div>
 <!-- outline tables -->
 <table class="ot" style="left:10.3px"><colgroup><col style="width:70.6px"><col></colgroup>
  <tr class="hd"><td colspan="2">Outline</td></tr>
  <tr class="ac"><td>1</td><td>Activity Title</td></tr>
  <tr class="tk"><td>1.1</td><td>Task</td></tr>
  <tr><td>1.1.1</td><td>Subtask</td></tr><tr><td>1.1.2</td><td>Subtask</td></tr><tr><td>1.1.3</td><td>Subtask</td></tr><tr><td>1.1.4</td><td>Subtask</td></tr><tr><td>1.1.5</td><td>Subtask</td></tr>
  <tr class="tk"><td>1.2</td><td>Task</td></tr>
  <tr><td>1.2.1</td><td>Subtask</td></tr><tr><td>1.2.2</td><td>Subtask</td></tr><tr><td>1.2.3</td><td>Subtask</td></tr><tr><td>1.2.4</td><td>Subtask</td></tr>
  <tr class="tk"><td>1.3</td><td>Task</td></tr>
  <tr><td>1.3.1</td><td>Subtask</td></tr><tr><td>1.3.2</td><td>Subtask</td></tr><tr><td>1.3.3</td><td>Subtask</td></tr>
 </table>
 <table class="ot" style="left:240.3px"><colgroup><col style="width:70.6px"><col></colgroup>
  <tr class="hd"><td colspan="2">Outline</td></tr>
  <tr class="ac"><td>2</td><td>Activity Title</td></tr>
  <tr class="tk"><td>2.1</td><td>Task</td></tr>
  <tr><td>2.1.1</td><td>Subtask</td></tr><tr><td>2.1.2</td><td>Subtask</td></tr><tr><td>2.1.3</td><td>Subtask</td></tr><tr><td>2.1.4</td><td>Subtask</td></tr><tr><td>2.1.5</td><td>Subtask</td></tr>
  <tr class="tk"><td>2.2</td><td>Task</td></tr>
  <tr><td>2.2.1</td><td>Subtask</td></tr><tr><td>2.2.2</td><td>Subtask</td></tr><tr><td>2.2.3</td><td>Subtask</td></tr><tr><td>2.2.4</td><td>Subtask</td></tr>
  <tr class="tk"><td>2.3</td><td>Task</td></tr>
  <tr><td>3.2.1</td><td>Subtask</td></tr><tr><td>3.2.2</td><td>Subtask</td></tr><tr><td>3.2.3</td><td>Subtask</td></tr>
 </table>
 <table class="ot" style="left:469.8px"><colgroup><col style="width:70.6px"><col></colgroup>
  <tr class="hd"><td colspan="2">Outline</td></tr>
  <tr class="ac"><td>3</td><td>Activity Title</td></tr>
  <tr class="tk"><td>3.1</td><td>Task</td></tr>
  <tr><td>3.1.1</td><td>Subtask</td></tr><tr><td>3.1.2</td><td>Subtask</td></tr><tr><td>3.1.3</td><td>Subtask</td></tr><tr><td>3.1.4</td><td>Subtask</td></tr><tr><td>3.1.5</td><td>Subtask</td></tr>
  <tr class="tk"><td>3.2</td><td>Task</td></tr>
  <tr><td>3.2.1</td><td>Subtask</td></tr><tr><td>3.2.2</td><td>Subtask</td></tr><tr><td>3.2.3</td><td>Subtask</td></tr><tr><td>3.2.4</td><td>Subtask</td></tr>
  <tr class="tk"><td>3.3</td><td>Task</td></tr>
  <tr><td>3.3.1</td><td>Subtask</td></tr><tr><td>3.3.2</td><td>Subtask</td></tr><tr><td>3.3.3</td><td>Subtask</td></tr>
 </table>
 <table class="ot" style="left:699.3px"><colgroup><col style="width:70.6px"><col></colgroup>
  <tr class="hd"><td colspan="2">Outline</td></tr>
  <tr class="ac"><td>4</td><td>Activity Title</td></tr>
  <tr class="tk"><td>4.1</td><td>Task</td></tr>
  <tr><td>4.1.1</td><td>Subtask</td></tr><tr><td>4.1.2</td><td>Subtask</td></tr><tr><td>4.1.3</td><td>Subtask</td></tr><tr><td>4.1.4</td><td>Subtask</td></tr><tr><td>4.1.5</td><td>Subtask</td></tr>
  <tr class="tk"><td>4.2</td><td>Task</td></tr>
  <tr><td>4.2.1</td><td>Subtask</td></tr><tr><td>4.2.2</td><td>Subtask</td></tr><tr><td>4.2.3</td><td>Subtask</td></tr><tr><td>4.2.4</td><td>Subtask</td></tr>
  <tr class="tk"><td>4.3</td><td>Task</td></tr>
  <tr><td>4.3.1</td><td>Subtask</td></tr><tr><td>4.3.2</td><td>Subtask</td></tr><tr><td>4.3.3</td><td>Subtask</td></tr>
 </table>
</div>

</div></div></body></html>
